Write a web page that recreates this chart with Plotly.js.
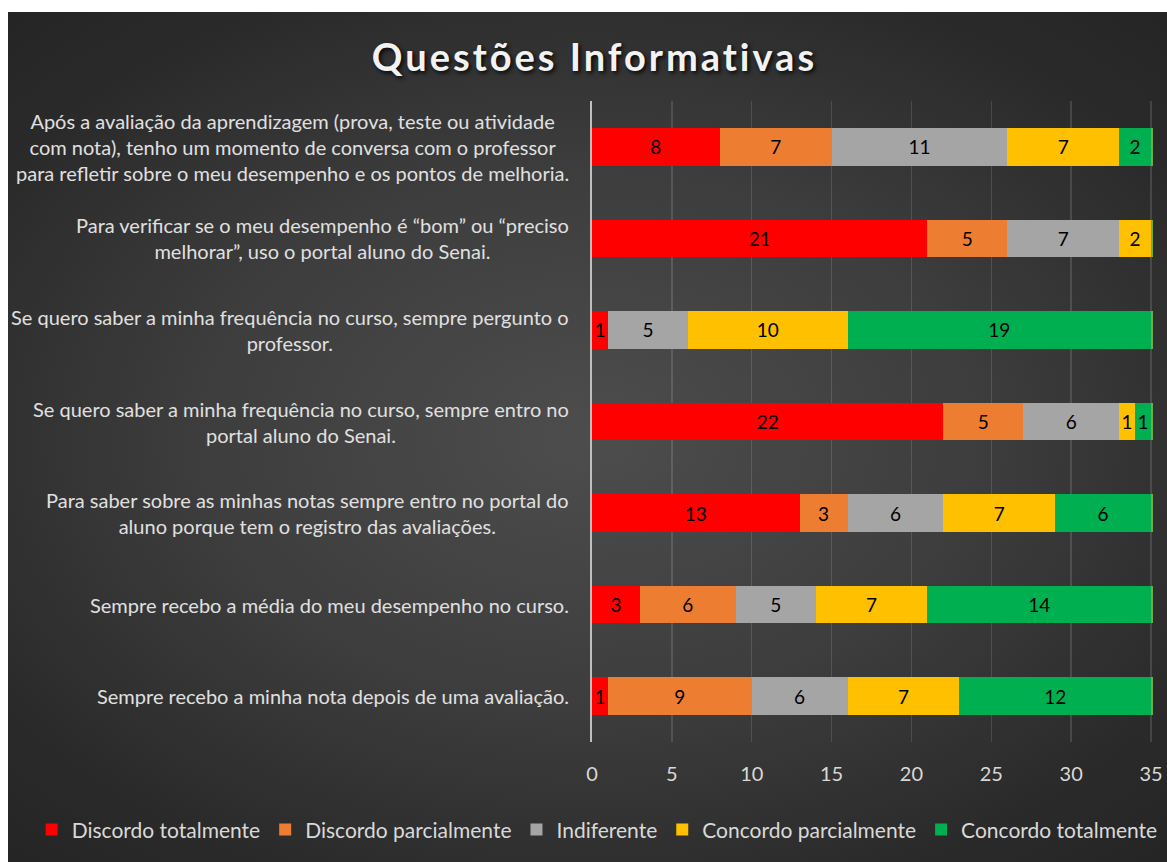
<!DOCTYPE html>
<html>
<head>
<meta charset="utf-8">
<script src="https://cdn.plot.ly/plotly-3.0.1.min.js"></script>
<style>
  html, body { margin: 0; padding: 0; background: #ffffff; }
  #wrap {
    position: absolute; left: 8px; top: 12px; width: 1159px; height: 850px;
    background: radial-gradient(ellipse 75% 70% at 50% 50%, #4d4d4d 0%, #3d3d3d 45%, #2a2a2a 80%, #242424 100%);
  }
  #chart { width: 1159px; height: 850px; }
  .gtitle { letter-spacing: 3px; }
</style>
</head>
<body>
<div id="wrap"><div id="chart"></div></div>
<script>
// Categories, top to bottom as shown
const categories = [
  "Após a avaliação da aprendizagem (prova, teste ou atividade<br>com nota), tenho um momento de conversa com o professor<br>para refletir sobre o meu desempenho e os pontos de melhoria.",
  "Para verificar se o meu desempenho é “bom” ou “preciso<br>melhorar”, uso o portal aluno do Senai.",
  "Se quero saber a minha frequência no curso, sempre pergunto o<br>professor.",
  "Se quero saber a minha frequência no curso, sempre entro no<br>portal aluno do Senai.",
  "Para saber sobre as minhas notas sempre entro no portal do<br>aluno porque tem o registro das avaliações.",
  "Sempre recebo a média do meu desempenho no curso.",
  "Sempre recebo a minha nota depois de uma avaliação."
];

const seriesNames = ["Discordo totalmente", "Discordo parcialmente", "Indiferente", "Concordo parcialmente", "Concordo totalmente"];

const discordoTotalmente    = [8, 21, 1, 22, 13, 3, 1];
const discordoParcialmente  = [7, 5, 0, 5, 3, 6, 9];
const indiferente           = [11, 7, 5, 6, 6, 5, 6];
const concordoParcialmente  = [7, 2, 10, 1, 7, 7, 7];
const concordoTotalmente    = [2, 0, 19, 1, 6, 14, 12];
const residual              = [0.15, 0.15, 0.15, 0.15, 0.15, 0.15, 0.15];

const xTicks = [0, 5, 10, 15, 20, 25, 30, 35];

const colors = ["#FF0000", "#ED7D31", "#A5A5A5", "#FFC000", "#00B050"];
const allSeries = [discordoTotalmente, discordoParcialmente, indiferente, concordoParcialmente, concordoTotalmente];

const FONT = "Lato, 'Open Sans', sans-serif";

const traces = allSeries.map((vals, i) => ({
  type: "bar",
  orientation: "h",
  name: seriesNames[i],
  y: categories,
  x: vals,
  text: vals.map(v => v ? String(v) : ""),
  textposition: "inside",
  insidetextanchor: "middle",
  constraintext: "none",
  textfont: { family: FONT, size: 19, color: "#000000" },
  marker: { color: colors[i], line: { width: 0 } },
  hoverinfo: "x+name"
}));

traces.push({
  type: "bar",
  orientation: "h",
  name: "",
  y: categories,
  x: residual,
  marker: { color: "#70AD47" },
  showlegend: false,
  hoverinfo: "skip"
});

const annotations = categories.map(c => ({
  xref: "paper", yref: "y",
  x: 0, y: c,
  xshift: -21,
  xanchor: "right", yanchor: "middle",
  align: "center",
  text: c,
  showarrow: false,
  font: { family: FONT, size: 20, color: "#e0e0e0" }
}));

const layout = {
  width: 1159,
  height: 850,
  paper_bgcolor: "rgba(0,0,0,0)",
  plot_bgcolor: "rgba(0,0,0,0)",
  margin: { l: 584, r: 12, t: 89, b: 117 },
  barmode: "stack",
  bargap: 0.59,
  title: {
    text: "Questões Informativas",
    xref: "container", yref: "container",
    x: 0.506, y: 0.946, xanchor: "center", yanchor: "middle",
    font: { family: FONT, size: 38, weight: "bold", color: "#f2f2f2", shadow: "2px 2px 4px rgba(0,0,0,0.9)" }
  },
  xaxis: {
    range: [0, 35.25],
    tickvals: xTicks,
    ticktext: xTicks.map(String),
    showgrid: true,
    gridcolor: "rgba(255,255,255,0.13)",
    gridwidth: 1.5,
    zeroline: false,
    showline: false,
    ticks: "",
    ticklabelstandoff: 18,
    tickfont: { family: FONT, size: 20, color: "#d9d9d9" },
    fixedrange: true
  },
  yaxis: {
    autorange: "reversed",
    showticklabels: false,
    showgrid: false,
    zeroline: false,
    showline: true,
    linecolor: "#bfbfbf",
    linewidth: 2.5,
    ticks: "",
    fixedrange: true
  },
  legend: {
    orientation: "h",
    xref: "paper", yref: "paper",
    x: -0.9953, y: -0.137, xanchor: "left", yanchor: "middle",
    font: { family: FONT, size: 21, color: "#d9d9d9" },
    traceorder: "normal",
    bgcolor: "rgba(0,0,0,0)"
  },
  annotations: annotations,
  showlegend: true
};

Plotly.newPlot("chart", traces, layout, { displayModeBar: false, staticPlot: true });
</script>
</body>
</html>
